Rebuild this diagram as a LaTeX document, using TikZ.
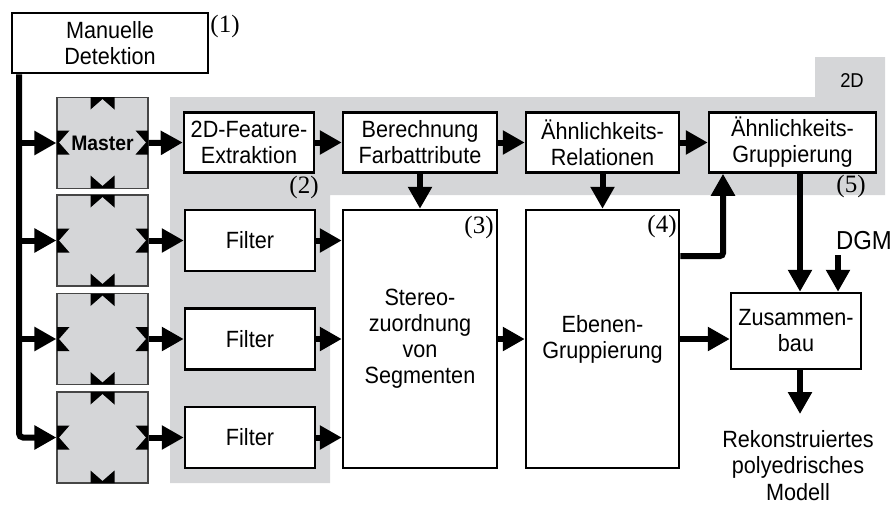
\documentclass[tikz,border=0pt]{standalone}
\usepackage{fontspec}
\setmainfont{Liberation Sans}[FakeStretch=0.92]
\newfontfamily\numfont{Liberation Serif}
\usetikzlibrary{arrows.meta}
\definecolor{panel}{RGB}{213,214,216}
\definecolor{rim}{RGB}{70,70,70}

\begin{document}
\begin{tikzpicture}[x=1pt,y=-1pt,
  stage/.style={draw=black, line width=2.5pt, fill=white, align=center,
    inner sep=0pt, font=\fontsize{23.5}{26}\selectfont},
  cam/.style={draw=rim, line width=1.2pt, fill=panel, inner sep=0pt,
    minimum width=91pt, minimum height=91pt},
  flow/.style={line width=6pt, -{Triangle[length=22pt,width=23pt]}},
  tag/.style={inner sep=0pt, font=\numfont\fontsize{25}{26}\selectfont},
  plain/.style={inner sep=0pt, align=center, font=\fontsize{23.5}{26.5}\selectfont}
]
\useasboundingbox (0,0) rectangle (896,504);

% shaded 2D panel with its tab
\fill[panel] (170,97) -- (815,97) -- (815,57) -- (885,57) -- (885,195)
  -- (330,195) -- (330,483) -- (170,483) -- cycle;
\node[inner sep=0pt, font=\fontsize{20}{22}\selectfont] (twod) at (852,81) {2D};

% camera views
\node[cam, font=\bfseries\fontsize{21}{24}\selectfont] (cam1) at (102.5,143) {Master};
\node[cam] (cam2) at (102.5,240.5) {};
\node[cam] (cam3) at (102.5,339) {};
\node[cam] (cam4) at (102.5,437.5) {};

% connection notches on the camera views
\foreach \cy in {142.5,240.5,339,437.5} {
  \def\cx{102.5}
  \fill[black] (\cx-12,\cy-45.5) -- (\cx+12,\cy-45.5) -- (\cx+12,\cy-33)
    -- (\cx,\cy-43.5) -- (\cx-12,\cy-33) -- cycle;
  \fill[black] (\cx-12,\cy+45.5) -- (\cx+12,\cy+45.5) -- (\cx+12,\cy+33)
    -- (\cx,\cy+43.5) -- (\cx-12,\cy+33) -- cycle;
  \fill[black] (\cx-45.5,\cy-12) -- (\cx-45.5,\cy+12) -- (\cx-33,\cy+12)
    -- (\cx-43.5,\cy) -- (\cx-33,\cy-12) -- cycle;
  \fill[black] (\cx+45.5,\cy-12) -- (\cx+45.5,\cy+12) -- (\cx+33,\cy+12)
    -- (\cx+43.5,\cy) -- (\cx+33,\cy-12) -- cycle;
}

% processing stages
\node[stage, minimum width=196pt, minimum height=60pt] (manual) at (110,43) {Manuelle\\Detektion};
\node[stage, minimum width=130pt, minimum height=60pt] (feat) at (249,142.5) {2D-Feature-\\Extraktion};
\node[stage, minimum width=154pt, minimum height=60pt] (farb) at (420,142.5) {Berechnung\\Farbattribute};
\node[stage, minimum width=153pt, minimum height=60pt] (rel) at (602.5,142.5) {Ähnlichkeits-\\Relationen};
\node[stage, minimum width=167pt, minimum height=60pt] (grupp) at (792.5,142.5) {Ähnlichkeits-\\Gruppierung};
\node[stage, minimum width=130pt, minimum height=61pt] (filt2) at (250,240.5) {Filter};
\node[stage, minimum width=130pt, minimum height=61pt] (filt3) at (250,339) {Filter};
\node[stage, minimum width=130pt, minimum height=61pt] (filt4) at (250,437.5) {Filter};
\node[stage, minimum width=154pt, minimum height=258pt] (stereo) at (420,339) {Stereo-\\zuordnung\\von\\Segmenten};
\node[stage, minimum width=153pt, minimum height=258pt] (ebenen) at (602.5,339) {Ebenen-\\Gruppierung};
\node[stage, minimum width=130pt, minimum height=76pt] (zus) at (796,331) {Zusammen-\\bau};

% step numbers
\node[tag] (n1) at (225,26) {(1)};
\node[tag] (n2) at (304,187) {(2)};
\node[tag] (n3) at (479,227) {(3)};
\node[tag] (n4) at (662,226) {(4)};
\node[tag] (n5) at (851,186) {(5)};

% external inputs and result
\node[inner sep=0pt, font=\fontsize{26}{28}\selectfont] (dgm) at (864,241) {DGM};
\node[plain, anchor=north] (model) at (798,430) {Rekonstruiertes\\polyedrisches\\Modell};

% distribution from the manual detection to all views
\coordinate (trunk) at (19,0);
\draw[flow, rounded corners=4pt] (trunk |- manual.south) -- (trunk |- cam4.west) -- (cam4.west);
\draw[flow] (trunk |- cam1.west) -- (cam1.west);
\draw[flow] (trunk |- cam2.west) -- (cam2.west);
\draw[flow] (trunk |- cam3.west) -- (cam3.west);

% 2D chain
\draw[flow] (cam1.east) -- (feat.west);
\draw[flow] (feat.east) -- (farb.west);
\draw[flow] (farb.east) -- (rel.west);
\draw[flow] (rel.east) -- (grupp.west);
\draw[flow] (farb.south) -- (stereo.north);
\draw[flow] (rel.south) -- (ebenen.north);

% filtered views into the stereo matching
\draw[flow] (cam2.east) -- (filt2.west);
\draw[flow] (cam3.east) -- (filt3.west);
\draw[flow] (cam4.east) -- (filt4.west);
\draw[flow] (filt2.east) -- (stereo.west |- filt2.east);
\draw[flow] (filt3.east) -- (stereo.west |- filt3.east);
\draw[flow] (filt4.east) -- (stereo.west |- filt4.east);

% 3D chain
\draw[flow] (stereo.east) -- (ebenen.west);
\draw[flow] (ebenen.east) -- (ebenen.east -| zus.west);
\coordinate (riser) at (723,256);
\draw[flow, rounded corners=3pt] (riser -| ebenen.east) -- (riser) -- (riser |- grupp.south);
\coordinate (drop) at (800,0);
\draw[flow] (drop |- grupp.south) -- (drop |- zus.north);
\coordinate (dgmfeed) at (838,255);
\draw[flow] (dgmfeed) -- (dgmfeed |- zus.north);
\draw[flow, shorten >=16pt] (drop |- zus.south) -- (drop |- model.north);
\end{tikzpicture}
\end{document}
